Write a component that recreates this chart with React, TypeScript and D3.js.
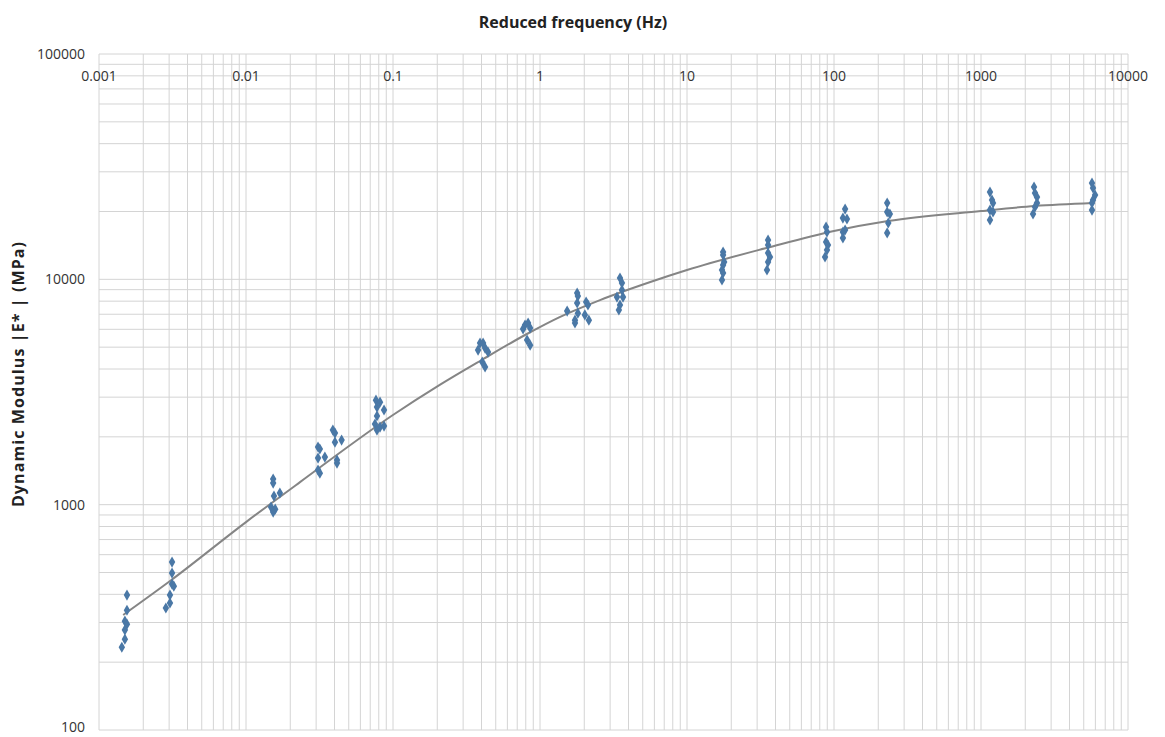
import React from "react";
import * as d3 from "d3";

const width = 1165;
const height = 737;
const margin = { top: 54, right: 37, bottom: 7, left: 99 };

// x tick labels (reduced frequency, Hz) and y tick labels (|E*|, MPa)
const freqTicks = [0.001, 0.01, 0.1, 1, 10, 100, 1000, 10000];
const freqTickLabels = ["0.001", "0.01", "0.1", "1", "10", "100", "1000", "10000"];
const modTicks = [100, 1000, 10000, 100000];
const modTickLabels = ["100", "1000", "10000", "100000"];

// measured points
const measuredFreq = [
  0.00155, 0.00155, 0.0015, 0.00155, 0.0015, 0.0015, 0.00143,
  0.00314, 0.00314, 0.00314, 0.00323, 0.00304, 0.00304, 0.00285,
  0.0153, 0.0153, 0.0155, 0.017, 0.0148, 0.0158, 0.0153,
  0.0309, 0.0318, 0.0309, 0.0344, 0.0309, 0.0318, 0.039, 0.0403, 0.0403, 0.0447, 0.0416, 0.0416,
  0.0766, 0.0816, 0.0778, 0.0869, 0.0778, 0.0754, 0.0816, 0.0869, 0.0778,
  0.391, 0.41, 0.379, 0.423, 0.443, 0.405, 0.423,
  0.791, 0.83, 0.767, 0.857, 0.817, 0.857,
  1.53, 1.79, 1.81, 1.79, 1.73, 1.73, 2.06, 2.12, 1.81, 2.02, 2.15,
  3.5, 3.61, 3.61, 3.34, 3.67, 3.5, 3.44,
  17.6, 17.6, 17.9, 17.6, 17.3, 17.6, 17.3,
  35.6, 35.6, 35.6, 36.7, 35.6, 35.0,
  88.3, 89.6, 88.3, 91.0, 89.6, 86.9,
  119, 115, 122.5, 119, 115, 115,
  230, 230, 240, 234, 230,
  1151, 1188, 1207, 1151, 1207, 1151,
  2295, 2330, 2404, 2404, 2330, 2259,
  5690, 5780, 5970, 5780, 5690, 5690,
];
const measuredModulus = [
  397, 340, 304, 295, 278, 253, 233,
  556, 497, 444, 435, 397, 366, 348,
  1300, 1247, 1092, 1127, 976, 955, 927,
  1802, 1766, 1610, 1626, 1425, 1380, 2143, 2079, 1894, 1935, 1577, 1530,
  2910, 2850, 2710, 2630, 2474, 2280, 2210, 2233, 2143,
  5215, 5215, 4855, 4955, 4755, 4295, 4083,
  6270, 6400, 6020, 6080, 5380, 5105,
  7230, 8690, 8430, 7850, 6590, 6400, 7930, 7690, 7080, 6950, 6590,
  10140, 9640, 8970, 8340, 8340, 7690, 7310,
  13220, 12820, 11940, 11570, 11000, 10670, 9930,
  14940, 14200, 13090, 12560, 11940, 11000,
  17060, 16220, 14650, 14200, 13490, 12560,
  20500, 18700, 18530, 16550, 16220, 15250,
  21810, 19890, 19490, 17780, 16070,
  24390, 22500, 21810, 20300, 19890, 18330,
  25700, 24150, 23170, 21810, 20940, 19490,
  26750, 25420, 23660, 22500, 21810, 20300,
];

// fitted master curve
const curveFreq = [
  0.00146, 0.00309, 0.01, 0.0233, 0.0999, 0.208, 0.401, 0.814, 1.36, 2.56,
  5.63, 10, 35.6, 99.9, 233, 1000, 2330, 5780,
];
const curveModulus = [
  324, 462, 837, 1259, 2500, 3400, 4385, 5720, 6800, 8090,
  9730, 11000, 13840, 16400, 18150, 20100, 21150, 21800,
];

const gridColor = "#d4d4d4";
const font = "'Open Sans', 'Liberation Sans', sans-serif";

export default function App() {
  const x = d3
    .scaleLog()
    .domain([0.001, 10000])
    .range([margin.left, width - margin.right]);
  const y = d3
    .scaleLog()
    .domain([100, 100000])
    .range([height - margin.bottom, margin.top]);

  const xGrid = x.ticks();
  const yGrid = y.ticks();

  const curvePts = curveFreq.map((f, i) => [f, curveModulus[i]] as [number, number]);
  const line = d3
    .line<[number, number]>()
    .x((d) => x(d[0]))
    .y((d) => y(d[1]))
    .curve(d3.curveMonotoneX);

  const diamond = d3.symbol().type(d3.symbolDiamond).size(36)();

  return (
    <svg
      width={width}
      height={height}
      style={{ position: "absolute", left: 0, top: 0, background: "#fff" }}
    >
      <g>
        {xGrid.map((t, i) => (
          <line
            key={"xg" + i}
            x1={x(t)}
            x2={x(t)}
            y1={margin.top}
            y2={height - margin.bottom}
            stroke={gridColor}
            strokeWidth={1}
          />
        ))}
        {yGrid.map((t, i) => (
          <line
            key={"yg" + i}
            x1={margin.left}
            x2={width - margin.right}
            y1={y(t)}
            y2={y(t)}
            stroke={gridColor}
            strokeWidth={1}
          />
        ))}
      </g>

      <path d={line(curvePts) || ""} fill="none" stroke="#858585" strokeWidth={2} />

      <g fill="#4a78a6">
        {measuredFreq.map((f, i) => (
          <path
            key={"p" + i}
            d={diamond || ""}
            transform={`translate(${x(f)},${y(measuredModulus[i])})`}
          />
        ))}
      </g>

      <g fontFamily={font} fontSize={14} fill="#333">
        {freqTicks.map((t, i) => (
          <text key={"xt" + i} x={x(t)} y={81} textAnchor="middle">
            {freqTickLabels[i]}
          </text>
        ))}
        {modTicks.map((t, i) => (
          <text key={"yt" + i} x={85} y={Math.min(y(t) + 5, 732)} textAnchor="end">
            {modTickLabels[i]}
          </text>
        ))}
      </g>

      <text
        x={573}
        y={28}
        textAnchor="middle"
        fontFamily={font}
        fontSize={16}
        fontWeight="bold"
        fill="#222"
      >
        Reduced frequency (Hz)
      </text>
      <text
        transform="translate(24,374) rotate(-90)"
        textAnchor="middle"
        fontFamily={font}
        fontSize={16}
        fontWeight="bold"
        letterSpacing={1.1}
        fill="#222"
      >
        Dynamic Modulus  |E* | (MPa)
      </text>
    </svg>
  );
}
